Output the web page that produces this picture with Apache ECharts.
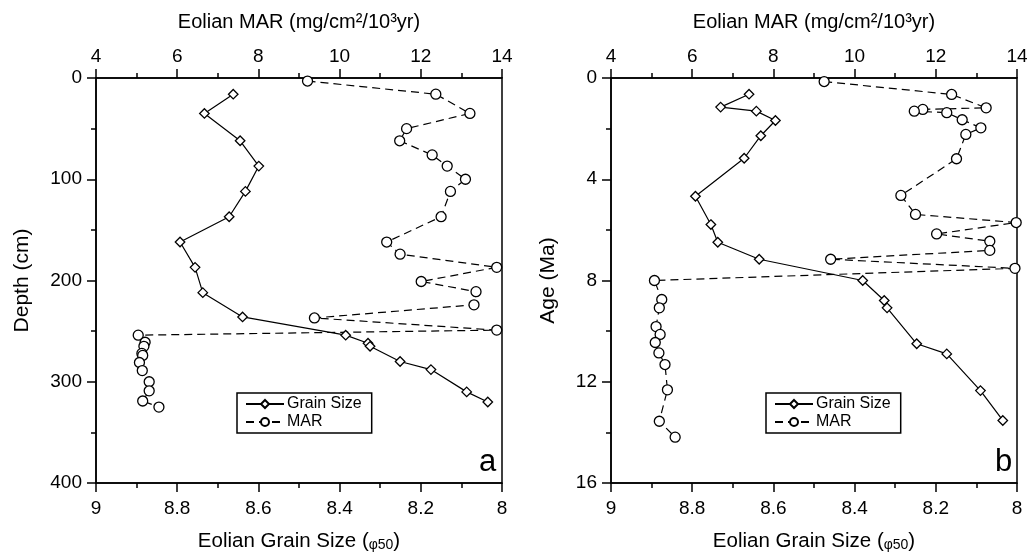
<!DOCTYPE html>
<html><head><meta charset="utf-8">
<script src="https://cdn.jsdelivr.net/npm/echarts@6/dist/echarts.min.js"></script>
<style>html,body{margin:0;padding:0;background:#fff}#c{width:1030px;height:554px}</style>
</head><body><div id="c"></div>
<script>
// Panel a: depth (cm)
const depthGrain = [16,35,62,87,112,137,162,187,212,236,254,262,265,280,288,310,320];
const grainA = [8.662,8.733,8.645,8.599,8.632,8.672,8.793,8.756,8.737,8.639,8.385,8.33,8.325,8.251,8.175,8.087,8.035];
const depthMar = [3,16,35,50,62,76,87,100,112,137,162,174,187,201,211,224,237,249,254,261,265,272,274,281,289,300,309,319,325];
const marA = [9.21,12.37,13.21,11.65,11.48,12.28,12.65,13.1,12.73,12.5,11.16,11.49,13.87,12.01,13.36,13.31,9.38,13.87,5.04,5.21,5.18,5.13,5.15,5.07,5.14,5.31,5.31,5.15,5.55];
// Panel b: age (Ma)
const ageGrain = [0.64,1.15,1.31,1.68,2.28,3.17,4.67,5.79,6.49,7.16,8.0,8.79,9.08,10.5,10.9,12.35,13.53];
const grainB = [8.66,8.73,8.642,8.595,8.631,8.672,8.792,8.754,8.737,8.635,8.38,8.327,8.32,8.247,8.173,8.09,8.035];
const ageMar = [0.14,0.65,1.18,1.24,1.31,1.37,1.65,1.97,2.23,3.19,4.64,5.39,5.71,6.16,6.45,6.81,7.16,7.52,8.0,8.75,9.08,9.82,10.13,10.45,10.86,11.32,12.32,13.56,14.19];
const marB = [9.25,12.39,13.24,11.68,11.47,12.27,12.65,13.11,12.74,12.51,11.14,11.5,13.98,12.02,13.33,13.33,9.41,13.95,5.07,5.25,5.19,5.11,5.21,5.09,5.18,5.33,5.39,5.19,5.58];
// axis ticks
const grainTicks = {min: 8, max: 9, interval: 0.2};
const marTicks = {min: 4, max: 14, interval: 2};
const depthTicks = {min: 0, max: 400, interval: 100};
const ageTicks = {min: 0, max: 16, interval: 4};

const FONT = '"Liberation Sans", Arial, Helvetica, sans-serif';
const black = '#000';
const axisLine = {show: true, onZero: false, lineStyle: {color: black, width: 1.5}};
const axisTick = {show: true, length: 9, lineStyle: {color: black, width: 1.5}};
const minorTick = {show: true, splitNumber: 2, length: 5, lineStyle: {color: black, width: 1.5}};
const lbl = {color: black, fontSize: 19, fontFamily: FONT};

function xBottom(gi) {
  return {type: 'value', gridIndex: gi, position: 'bottom', inverse: true,
    min: grainTicks.min, max: grainTicks.max, interval: grainTicks.interval,
    axisLine, axisTick, minorTick, splitLine: {show: false}, minorSplitLine: {show: false},
    axisLabel: Object.assign({margin: 16, formatter: v => String(+v.toFixed(1))}, lbl),
    name: '{n|Eolian Grain Size (}{s|φ50}{n|)}', nameLocation: 'middle', nameGap: 47,
    nameTextStyle: {rich: {n: {fontSize: 20.5, fontFamily: FONT, color: black},
      s: {fontSize: 14, fontFamily: FONT, color: black, padding: [8, 0, 0, 0]}}}};
}
function xTop(gi) {
  return {type: 'value', gridIndex: gi, position: 'top',
    min: marTicks.min, max: marTicks.max, interval: marTicks.interval,
    axisLine, axisTick, minorTick, splitLine: {show: false}, minorSplitLine: {show: false},
    axisLabel: Object.assign({margin: 12}, lbl),
    name: 'Eolian MAR (mg/cm²/10³yr)', nameLocation: 'middle', nameGap: 46,
    nameTextStyle: {fontSize: 20, fontFamily: FONT, color: black}};
}
function yLeft(gi, t, name) {
  return {type: 'value', gridIndex: gi, inverse: true,
    min: t.min, max: t.max, interval: t.interval,
    axisLine, axisTick, minorTick, splitLine: {show: false}, minorSplitLine: {show: false},
    axisLabel: Object.assign({margin: 14}, lbl),
    name, nameLocation: 'middle', nameGap: gi === 0 ? 63 : 52,
    nameTextStyle: {fontSize: 21, fontFamily: FONT, color: black}};
}
function grainSeries(xi, yi, xs, ys) {
  return {name: 'Grain Size', type: 'line', xAxisIndex: xi, yAxisIndex: yi,
    data: xs.map((v, i) => [v, ys[i]]),
    symbol: 'diamond', symbolSize: [9.5, 9.5], showSymbol: true,
    lineStyle: {color: black, width: 1.2},
    itemStyle: {color: '#fff', borderColor: black, borderWidth: 1.3},
    z: 3, animation: false};
}
function marSeries(xi, yi, xs, ys) {
  return {name: 'MAR', type: 'line', xAxisIndex: xi, yAxisIndex: yi,
    data: xs.map((v, i) => [v, ys[i]]),
    symbol: 'circle', symbolSize: 10, showSymbol: true,
    lineStyle: {color: black, width: 1.2, type: [8, 5]},
    itemStyle: {color: '#fff', borderColor: black, borderWidth: 1.3},
    z: 3, animation: false};
}
function legendAt(left, top) {
  return {left, top, orient: 'vertical', data: ['Grain Size', 'MAR'],
    borderColor: black, borderWidth: 1.5, padding: [3, 10, 3, 8], itemGap: 2,
    itemWidth: 38, itemHeight: 10, backgroundColor: '#fff',
    textStyle: {fontSize: 16, fontFamily: FONT, color: black, padding: [0, 0, 0, -2]},
    selectedMode: false};
}

const chart = echarts.init(document.getElementById('c'), null, {renderer: 'canvas'});
chart.setOption({
  animation: false,
  backgroundColor: '#fff',
  grid: [
    {left: 96, top: 78, width: 406, height: 405, show: true, borderColor: black, borderWidth: 1.5,
     containLabel: false, outerBoundsMode: 'none'},
    {left: 611, top: 78, width: 406, height: 405, show: true, borderColor: black, borderWidth: 1.5,
     containLabel: false, outerBoundsMode: 'none'}
  ],
  xAxis: [xBottom(0), xTop(0), xBottom(1), xTop(1)],
  yAxis: [yLeft(0, depthTicks, 'Depth (cm)'), yLeft(1, ageTicks, 'Age (Ma)')],
  legend: [legendAt(237, 393), legendAt(766, 393)],
  series: [
    grainSeries(0, 0, grainA, depthGrain),
    marSeries(1, 0, marA, depthMar),
    grainSeries(2, 1, grainB, ageGrain),
    marSeries(3, 1, marB, ageMar)
  ],
  graphic: [
    {type: 'text', left: 479, top: 447, style: {text: 'a', fontSize: 31, fontFamily: FONT, fill: black}},
    {type: 'text', left: 995, top: 447, style: {text: 'b', fontSize: 31, fontFamily: FONT, fill: black}}
  ]
});
</script></body></html>
